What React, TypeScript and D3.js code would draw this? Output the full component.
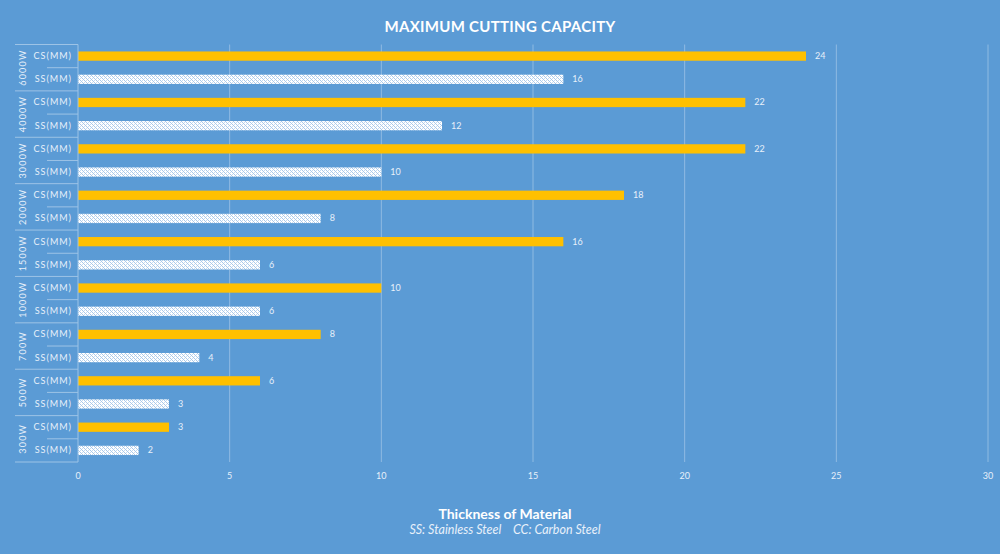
import React from "react";
import * as d3 from "d3";

const groups = ["6000W", "4000W", "3000W", "2000W", "1500W", "1000W", "700W", "500W", "300W"];
const csValues = [24, 22, 22, 18, 16, 10, 8, 6, 3];
const ssValues = [16, 12, 10, 8, 6, 6, 4, 3, 2];
const subCats = ["CS(MM)", "SS(MM)"];
const xTicks = [0, 5, 10, 15, 20, 25, 30];

const W = 1000, H = 554;
const m = { left: 78, right: 12, top: 44.5, bottom: 92 };

export default function App() {
  const x = d3.scaleLinear().domain([0, 30]).range([m.left, W - m.right]);
  const rows = groups.flatMap((g, i) => [
    { key: g + "cs", group: g, sub: subCats[0], v: csValues[i], cs: true },
    { key: g + "ss", group: g, sub: subCats[1], v: ssValues[i], cs: false },
  ]);
  const y = d3.scaleBand<string>().domain(rows.map(r => r.key)).range([m.top, H - m.bottom]).paddingInner(0.6).paddingOuter(0.3);
  const gy = d3.scaleBand<string>().domain(groups).range([m.top, H - m.bottom]);
  const font = "Lato, 'Open Sans', sans-serif";
  const textCol = "#e8f0fa";
  const lineCol = "#9dc3e6";
  return (
    <svg width={W} height={H} style={{ position: "absolute", left: 0, top: 0 }} fontFamily={font}>
      <defs>
        <pattern id="hatch" width="4" height="4" patternUnits="userSpaceOnUse">
          <rect width="4" height="4" fill="#ffffff" />
          <rect x="0" y="0" width="1" height="1" fill="#a9c9ea" />
          <rect x="1" y="1" width="1" height="1" fill="#a9c9ea" />
          <rect x="2" y="2" width="1" height="1" fill="#a9c9ea" />
          <rect x="3" y="3" width="1" height="1" fill="#a9c9ea" />
          <rect x="2" y="0" width="1" height="1" fill="#c8dcf1" />
          <rect x="0" y="2" width="1" height="1" fill="#c8dcf1" />
        </pattern>
      </defs>
      <rect width={W} height={H} fill="#5b9bd5" />
      <text x={W / 2} y={32} textAnchor="middle" fill="#ffffff" fontSize={15} fontWeight={700} letterSpacing={0.3}>MAXIMUM CUTTING CAPACITY</text>
      {xTicks.slice(1).map(t => (
        <line key={t} x1={x(t)} x2={x(t)} y1={m.top} y2={H - m.bottom} stroke={lineCol} strokeWidth={1} opacity={0.8} />
      ))}
      {xTicks.map(t => (
        <text key={"t" + t} x={x(t)} y={479} textAnchor="middle" fill={textCol} fontSize={9}>{t}</text>
      ))}
      {rows.map(r => {
        const yy = y(r.key)!;
        return (
          <g key={r.key}>
            <rect x={x(0)} y={yy} width={x(r.v) - x(0)} height={y.bandwidth()} fill={r.cs ? "#ffc000" : "url(#hatch)"} />
            <text x={x(r.v) + 9} y={yy + y.bandwidth() / 2 + 3} fill={textCol} fontSize={9}>{r.v}</text>
            <text x={72} y={yy + y.bandwidth() / 2 + 3} textAnchor="end" fill={textCol} fontSize={9} letterSpacing={1}>{r.sub}</text>
          </g>
        );
      })}
      <line x1={m.left} x2={m.left} y1={m.top} y2={H - m.bottom} stroke={lineCol} strokeWidth={1} />
      {groups.map((g) => {
        const gt = gy(g)!;
        const cy = gt + gy.bandwidth() / 2;
        return (
          <g key={g}>
            <line x1={15} x2={m.left} y1={gt} y2={gt} stroke={lineCol} strokeWidth={1} />
            <line x1={47} x2={m.left} y1={cy} y2={cy} stroke={lineCol} strokeWidth={1} />
            <text transform={`translate(${26},${cy}) rotate(-90)`} textAnchor="middle" fill={textCol} fontSize={9} letterSpacing={1.2}>{g}</text>
          </g>
        );
      })}
      <line x1={15} x2={m.left} y1={H - m.bottom} y2={H - m.bottom} stroke={lineCol} strokeWidth={1} />
      <text x={505} y={519} textAnchor="middle" fill="#ffffff" fontSize={14} fontWeight={700}>Thickness of Material</text>
      <text x={505} y={534} textAnchor="middle" fill={textCol} fontSize={12.5} fontStyle="italic" xmlSpace="preserve">SS: Stainless Steel    CC: Carbon Steel</text>
    </svg>
  );
}
